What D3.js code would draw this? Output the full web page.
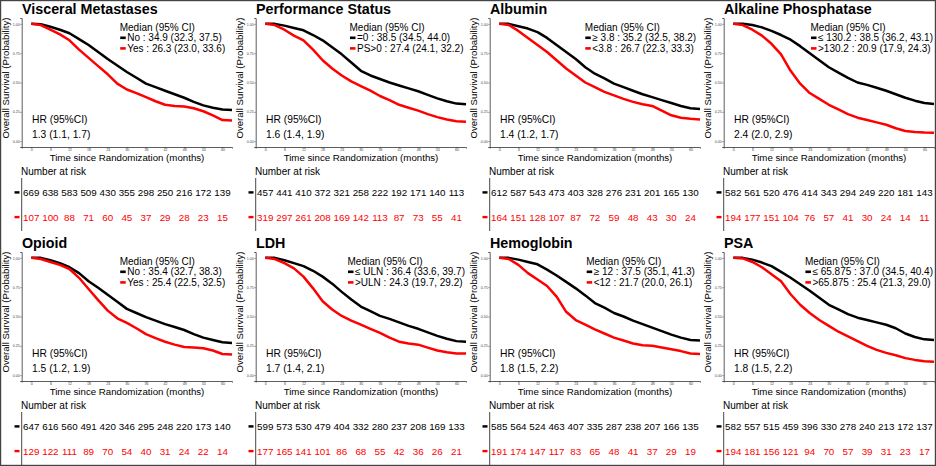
<!DOCTYPE html>
<html><head><meta charset="utf-8">
<script src="https://cdn.jsdelivr.net/npm/d3@7"></script>
<style>
body{margin:0;background:#fff;}
svg{display:block;font-family:"Liberation Sans",Arial,sans-serif;}
</style></head>
<body><svg id="c" width="936" height="466"></svg>
<script>
// ---------- data ----------
const times = [0,3,6,9,12,15,18,21,24,27,30,33,36,39,42,45,48,51,54,57,60,63];
const riskTimes = [0,6,12,18,24,30,36,42,48,54,60];
const xTicks = [0,6,12,18,24,30,36,42,48,54,60];
const yTicks = [0,0.25,0.5,0.75,1];
const titles = ["Visceral Metastases","Performance Status","Albumin","Alkaline Phosphatase","Opioid","LDH","Hemoglobin","PSA"];

const survVisceralNo  = [1,.997,.975,.95,.92,.87,.82,.76,.70,.645,.59,.54,.49,.46,.43,.40,.37,.335,.305,.285,.27,.265];
const survVisceralYes = [1,.99,.95,.91,.86,.78,.71,.64,.57,.49,.44,.41,.375,.34,.31,.30,.295,.28,.255,.22,.18,.175];
const survPS0   = [1,1,.985,.965,.945,.905,.86,.80,.74,.67,.60,.56,.53,.50,.475,.45,.425,.395,.365,.34,.32,.315];
const survPSgt0 = [1,.99,.95,.90,.86,.78,.69,.62,.56,.51,.47,.43,.385,.35,.31,.285,.26,.23,.205,.185,.17,.165];
const survAlbHi = [1,1,.98,.96,.93,.88,.82,.76,.70,.63,.575,.535,.49,.46,.43,.40,.375,.35,.325,.30,.28,.275];
const survAlbLo = [1,.99,.94,.88,.82,.76,.69,.62,.56,.50,.46,.42,.39,.36,.335,.315,.30,.26,.22,.20,.19,.185];
const survAlpLo = [1,1,.99,.97,.94,.905,.865,.81,.75,.69,.63,.585,.54,.50,.48,.455,.43,.40,.37,.345,.325,.316];
const survAlpHi = [1,.99,.95,.90,.83,.74,.60,.49,.41,.36,.31,.27,.23,.20,.18,.16,.14,.11,.086,.077,.073,.071];
const survOpiNo  = [1,1,.98,.955,.92,.87,.80,.745,.685,.625,.565,.53,.495,.465,.435,.41,.385,.35,.32,.30,.28,.275];
const survOpiYes = [1,.99,.965,.94,.905,.83,.735,.64,.55,.485,.445,.40,.35,.315,.285,.26,.24,.235,.23,.21,.18,.175];
const survLdhLo = [1,1,.98,.955,.93,.89,.84,.78,.71,.645,.585,.545,.505,.48,.45,.42,.395,.365,.335,.31,.29,.285];
const survLdhHi = [1,.99,.955,.91,.84,.74,.63,.56,.505,.465,.43,.395,.36,.32,.285,.27,.26,.235,.21,.195,.185,.185];
const survHbHi = [1,1,.985,.965,.945,.90,.85,.795,.74,.68,.615,.575,.53,.50,.465,.435,.405,.375,.345,.32,.30,.295];
const survHbLo = [1,.99,.94,.87,.815,.76,.67,.54,.47,.43,.39,.355,.32,.295,.27,.255,.25,.235,.22,.205,.185,.18];
const survPsaLo = [1,1,.985,.96,.93,.88,.83,.775,.72,.66,.60,.56,.52,.49,.47,.45,.43,.40,.355,.325,.305,.30];
const survPsaHi = [1,.995,.965,.92,.86,.80,.69,.60,.53,.47,.42,.37,.33,.29,.25,.215,.19,.17,.145,.13,.118,.114];

const riskVisceralNo=[669,638,583,509,430,355,298,250,216,172,139], riskVisceralYes=[107,100,88,71,60,45,37,29,28,23,15];
const riskPS0=[457,441,410,372,321,258,222,192,171,140,113], riskPSgt0=[319,297,261,208,169,142,113,87,73,55,41];
const riskAlbHi=[612,587,543,473,403,328,276,231,201,165,130], riskAlbLo=[164,151,128,107,87,72,59,48,43,30,24];
const riskAlpLo=[582,561,520,476,414,343,294,249,220,181,143], riskAlpHi=[194,177,151,104,76,57,41,30,24,14,11];
const riskOpiNo=[647,616,560,491,420,346,295,248,220,173,140], riskOpiYes=[129,122,111,89,70,54,40,31,24,22,14];
const riskLdhLo=[599,573,530,479,404,332,280,237,208,169,133], riskLdhHi=[177,165,141,101,86,68,55,42,36,26,21];
const riskHbHi=[585,564,524,463,407,335,287,238,207,166,135], riskHbLo=[191,174,147,117,83,65,48,41,37,29,19];
const riskPsaLo=[582,557,515,459,396,330,278,240,213,172,137], riskPsaHi=[194,181,156,121,94,70,57,39,31,23,17];

const legendRef = ["No : 34.9 (32.3, 37.5)","=0 : 38.5 (34.5, 44.0)","\u2265 3.8 : 35.2 (32.5, 38.2)","\u2264 130.2 : 38.5 (36.2, 43.1)","No : 35.4 (32.7, 38.3)","\u2264 ULN : 36.4 (33.6, 39.7)","\u2265 12 : 37.5 (35.1, 41.3)","\u2264 65.875 : 37.0 (34.5, 40.4)"];
const legendCmp = ["Yes : 26.3 (23.0, 33.6)","PS>0 : 27.4 (24.1, 32.2)","<3.8 : 26.7 (22.3, 33.3)",">130.2 : 20.9 (17.9, 24.3)","Yes : 25.4 (22.5, 32.5)",">ULN : 24.3 (19.7, 29.2)","<12 : 21.7 (20.0, 26.1)",">65.875 : 25.4 (21.3, 29.0)"];
const hrText = ["1.3 (1.1, 1.7)","1.6 (1.4, 1.9)","1.4 (1.2, 1.7)","2.4 (2.0, 2.9)","1.5 (1.2, 1.9)","1.7 (1.4, 2.1)","1.8 (1.5, 2.2)","1.8 (1.5, 2.2)"];

const survRef = [survVisceralNo,survPS0,survAlbHi,survAlpLo,survOpiNo,survLdhLo,survHbHi,survPsaLo];
const survCmp = [survVisceralYes,survPSgt0,survAlbLo,survAlpHi,survOpiYes,survLdhHi,survHbLo,survPsaHi];
const riskRef = [riskVisceralNo,riskPS0,riskAlbHi,riskAlpLo,riskOpiNo,riskLdhLo,riskHbHi,riskPsaLo];
const riskCmp = [riskVisceralYes,riskPSgt0,riskAlbLo,riskAlpHi,riskOpiYes,riskLdhHi,riskHbLo,riskPsaHi];

// ---------- drawing ----------
const colors = ["#000000","#FF0000"];
const svg = d3.select("#c");
svg.append("rect").attr("x",0).attr("y",0).attr("width",936).attr("height",466).attr("fill","#fff");

const x = d3.scaleLinear().domain([-3,63]).range([21.7,232]);
const y = d3.scaleLinear().domain([-0.05,1.05]).range([147,18]);
const line = d3.line().x(d=>x(d[0])).y(d=>y(d[1])).curve(d3.curveLinear);

titles.forEach((title,i)=>{
  const col=i%4, row=Math.floor(i/4);
  const g = svg.append("g").attr("transform",`translate(${col*234},${row*234})`);

  g.append("text").attr("x",22).attr("y",13.5).attr("font-size",14.3).attr("font-weight","bold").attr("fill","#000").text(title);

  // axes
  const ya = g.append("g").attr("transform","translate(21.7,0)")
    .call(d3.axisLeft(y).tickValues(yTicks).tickFormat(d3.format(".2f")).tickSizeOuter(0).tickSize(1.5));
  const xa = g.append("g").attr("transform","translate(0,147)")
    .call(d3.axisBottom(x).tickValues(xTicks).tickFormat(d3.format("d")).tickSizeOuter(0).tickSize(1.5));
  [ya,xa].forEach(a=>{
    a.select(".domain").attr("stroke","#333").attr("stroke-width",0.8);
    a.selectAll(".tick line").attr("stroke","#333").attr("stroke-width",0.5);
    a.selectAll(".tick text").attr("font-size",3.6).attr("fill","#444").attr("font-family","Liberation Sans, Arial, sans-serif");
  });
  ya.selectAll(".tick text").attr("x",-2);
  xa.selectAll(".tick text").attr("y",1.6);

  g.append("text").attr("transform","translate(9.3,78) rotate(-90)").attr("text-anchor","middle")
    .attr("font-size",9.6).attr("fill","#000").text("Overall Survival (Probability)");
  g.append("text").attr("x",127).attr("y",161.3).attr("text-anchor","middle")
    .attr("font-size",9.7).attr("fill","#000").text("Time since Randomization (months)");

  // curves
  [survRef[i],survCmp[i]].forEach((s,k)=>{
    g.append("path").datum(times.map((t,j)=>[t,s[j]])).attr("d",line)
      .attr("fill","none").attr("stroke",colors[k]).attr("stroke-width",2.5).attr("stroke-linejoin","round");
  });

  // legend
  const lg = g.append("g");
  lg.append("text").attr("x",0).attr("y",30.5).attr("font-size",10).attr("fill","#000").text("Median (95% CI)");
  [legendRef[i],legendCmp[i]].forEach((lab,k)=>{
    const yy = 41.2 + k*10.6;
    lg.append("rect").attr("x",0.5).attr("y",yy-4.7).attr("width",5.5).attr("height",2.6).attr("fill",colors[k]);
    lg.append("text").attr("x",7.5).attr("y",yy).attr("font-size",10).attr("fill","#000").text(lab);
  });
  const bb = lg.node().getBBox();
  const lx = Math.min(172.5-bb.width/2, 231-bb.width);
  lg.attr("transform",`translate(${lx},0)`);

  // HR
  g.append("text").attr("x",32).attr("y",122.8).attr("font-size",10.3).attr("fill","#000").text("HR (95%CI)");
  g.append("text").attr("x",32).attr("y",137.8).attr("font-size",10.3).attr("fill","#000").text(hrText[i]);

  // risk table
  g.append("text").attr("x",21).attr("y",174.5).attr("font-size",10).attr("fill","#000").text("Number at risk");
  g.append("line").attr("x1",21.7).attr("x2",21.7).attr("y1",178).attr("y2",231).attr("stroke","#333").attr("stroke-width",0.9);
  [riskRef[i],riskCmp[i]].forEach((arr,k)=>{
    const yy = 192.5 + k*24.7;
    g.append("rect").attr("x",14.5).attr("y",yy-1.3).attr("width",5).attr("height",2.4).attr("fill",colors[k]);
    g.selectAll(null).data(arr).enter().append("text")
      .attr("x",(d,j)=>x(riskTimes[j])).attr("y",yy+3.6).attr("text-anchor","middle")
      .attr("font-size",9.8).attr("fill",colors[k]).text(d=>d);
  });
});

svg.append("rect").attr("x",0.6).attr("y",0.6).attr("width",934.8).attr("height",464.8)
  .attr("fill","none").attr("stroke","#444").attr("stroke-width",1.2);
</script></body></html>
